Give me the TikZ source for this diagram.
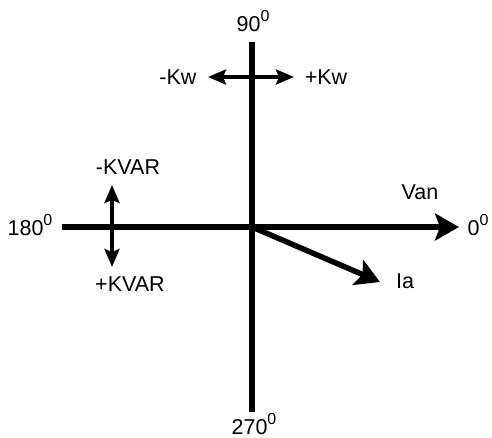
\documentclass[tikz,border=0pt]{standalone}
\usepackage{fontspec}
\setmainfont{Liberation Sans}
\usetikzlibrary{positioning, arrows.meta}
\newcommand{\degsup}{\raisebox{0.85ex}{\fontsize{16}{16}\selectfont 0}}

\begin{document}
\begin{tikzpicture}[x=1pt, y=-1pt,
    axis/.style={line width=5.5pt},
    phasor/.style={line width=5.5pt, -{Stealth[length=24pt, width=27pt, inset=5pt]}},
    flow/.style={line width=3.5pt, {Stealth[length=18pt, width=15pt, inset=3pt]}-{Stealth[length=18pt, width=15pt, inset=3pt]}},
    lbl/.style={font=\fontsize{21.5}{24}\selectfont, inner sep=0pt},
  ]
    \useasboundingbox (0,0) rectangle (492,438);

    % Axes
    \coordinate (origin) at (252, 227);
    \coordinate (west)   at (62, 227);
    \coordinate (east)   at (459, 227);
    \coordinate (north)  at (252, 42);
    \coordinate (south)  at (252, 412);
    \coordinate (iatip)  at (380, 282);

    \draw[axis] (north) -- (south);
    \draw[axis] (west) -- (origin);
    \draw[phasor] (origin) -- (east);
    \draw[phasor] (origin) -- (iatip);

    % Power flow arrows
    \coordinate (kwleft)  at (208, 77);
    \coordinate (kwright) at (294, 77);
    \coordinate (kvartop) at (112, 185);
    \coordinate (kvarbot) at (112, 267);

    \draw[flow] (kwleft) -- (kwright);
    \draw[flow] (kvartop) -- (kvarbot);

    % Angle labels
    \node[lbl] (deg90)  at (253, 21)  {90\degsup};
    \node[lbl] (deg270) at (254, 424) {270\degsup};
    \node[lbl] (deg180) at (30, 225)  {180\degsup};
    \node[lbl] (deg0)   at (478, 225) {0\degsup};

    % Phasor labels
    \node[lbl] (van) at (420, 192) {Van};
    \node[lbl] (ia)  at (405, 281) {Ia};

    % Flow labels
    \node[lbl] (kwneg)   at (178, 77)  {-Kw};
    \node[lbl] (kwpos)   at (326, 77)  {+Kw};
    \node[lbl] (kvarneg) at (128, 167) {-KVAR};
    \node[lbl] (kvarpos) at (130, 284) {+KVAR};
  \end{tikzpicture}
\end{document}
